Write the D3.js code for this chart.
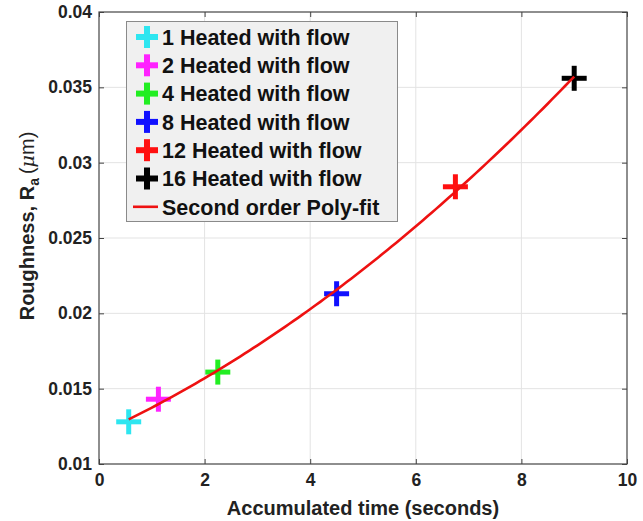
<!DOCTYPE html>
<html>
<head>
<meta charset="utf-8">
<script src="https://cdn.jsdelivr.net/npm/d3@7"></script>
<style>
  body { margin: 0; background: #fff; }
  svg { display: block; font-family: "Liberation Sans", Arial, sans-serif; }
</style>
</head>
<body>
<svg id="chart" width="643" height="521"></svg>
<script>
// data
const labels = ["1 Heated with flow", "2 Heated with flow", "4 Heated with flow",
  "8 Heated with flow", "12 Heated with flow", "16 Heated with flow"];
const times = [0.5625, 1.125, 2.25, 4.5, 6.75, 9.0];
const roughness = [0.0128, 0.0143, 0.0161, 0.0213, 0.0284, 0.0356];
const colors = ["#2ee6f0", "#ff22ff", "#22ee22", "#1010ff", "#ff1010", "#000000"];
const xTicks = [0, 2, 4, 6, 8, 10];
const yTicks = [0.01, 0.015, 0.02, 0.025, 0.03, 0.035, 0.04];
const fitLabel = "Second order Poly-fit";

const svg = d3.select("#chart");
const pLeft = 99, pRight = 627, pTop = 12, pBottom = 464;

const x = d3.scaleLinear().domain([0, 10]).range([pLeft, pRight]);
const y = d3.scaleLinear().domain([0.01, 0.04]).range([pBottom, pTop]);

// grid
const grid = svg.append("g").attr("stroke", "#e3e3e3").attr("stroke-width", 1);
grid.selectAll(".gx").data(xTicks.slice(1, -1)).join("line")
  .attr("x1", d => x(d)).attr("x2", d => x(d)).attr("y1", pTop).attr("y2", pBottom);
grid.selectAll(".gy").data(yTicks.slice(1, -1)).join("line")
  .attr("y1", d => y(d)).attr("y2", d => y(d)).attr("x1", pLeft).attr("x2", pRight);

// axes (matlab style box with inward ticks)
const axisColor = "#444";
const tickLen = 5;
svg.append("g").attr("transform", `translate(0,${pBottom})`)
  .call(d3.axisBottom(x).tickValues(xTicks).tickSize(-tickLen).tickPadding(10).tickFormat(d3.format("d")))
  .call(g => g.select(".domain").remove());
svg.append("g").attr("transform", `translate(0,${pTop})`)
  .call(d3.axisTop(x).tickValues(xTicks).tickSize(-tickLen).tickFormat(""))
  .call(g => g.select(".domain").remove());
svg.append("g").attr("transform", `translate(${pLeft},0)`)
  .call(d3.axisLeft(y).tickValues(yTicks).tickSize(-tickLen).tickPadding(7).tickFormat(d => +d.toFixed(3)))
  .call(g => g.select(".domain").remove());
svg.append("g").attr("transform", `translate(${pRight},0)`)
  .call(d3.axisRight(y).tickValues(yTicks).tickSize(-tickLen).tickFormat(""))
  .call(g => g.select(".domain").remove());

svg.selectAll(".tick line").attr("stroke", axisColor);
svg.selectAll(".tick text")
  .attr("font-family", "'Liberation Sans', Arial, sans-serif")
  .attr("font-size", 17.5).attr("font-weight", "bold").attr("fill", "#222");

svg.append("rect").attr("x", pLeft).attr("y", pTop)
  .attr("width", pRight - pLeft).attr("height", pBottom - pTop)
  .attr("fill", "none").attr("stroke", axisColor).attr("stroke-width", 1.2);

// axis labels
svg.append("text").attr("x", (pLeft + pRight) / 2).attr("y", 515)
  .attr("text-anchor", "middle").attr("font-size", 20).attr("font-weight", "bold").attr("fill", "#222")
  .text("Accumulated time (seconds)");

const yl = svg.append("text").attr("transform", "translate(34,226) rotate(-90)")
  .attr("text-anchor", "middle").attr("font-size", 20).attr("font-weight", "bold").attr("fill", "#222");
yl.append("tspan").text("Roughness, R");
yl.append("tspan").attr("font-size", 14).attr("dy", 5).text("a");
yl.append("tspan").attr("dy", -5).attr("font-weight", "normal").text("\u2009(");
yl.append("tspan").attr("font-weight", "normal").attr("font-style", "italic").attr("font-family", "'DejaVu Serif', serif").attr("font-size", 19).text("\u03bc");
yl.append("tspan").attr("font-weight", "normal").text("m)");

// markers
const plus = (g, size, w) => {
  g.append("line").attr("x1", -size / 2).attr("x2", size / 2).attr("stroke-width", w);
  g.append("line").attr("y1", -size / 2).attr("y2", size / 2).attr("stroke-width", w);
};
times.forEach((t, i) => {
  const g = svg.append("g").attr("transform", `translate(${x(t)},${y(roughness[i])})`)
    .attr("stroke", colors[i]);
  plus(g, 25, 5);
});

// second order least squares fit computed from the points
function polyfit2(xs, ys) {
  const n = xs.length;
  let s = [0, 0, 0, 0, 0], t = [0, 0, 0];
  for (let i = 0; i < n; i++) {
    for (let k = 0; k <= 4; k++) s[k] += Math.pow(xs[i], k);
    for (let k = 0; k <= 2; k++) t[k] += ys[i] * Math.pow(xs[i], k);
  }
  const A = [[s[0], s[1], s[2], t[0]], [s[1], s[2], s[3], t[1]], [s[2], s[3], s[4], t[2]]];
  for (let c = 0; c < 3; c++) {
    for (let r = c + 1; r < 3; r++) {
      const f = A[r][c] / A[c][c];
      for (let k = c; k < 4; k++) A[r][k] -= f * A[c][k];
    }
  }
  const p = [0, 0, 0];
  for (let r = 2; r >= 0; r--) {
    let v = A[r][3];
    for (let k = r + 1; k < 3; k++) v -= A[r][k] * p[k];
    p[r] = v / A[r][r];
  }
  return p;
}
const coef = polyfit2(times, roughness);
const fitX = d3.range(0, 101).map(i => times[0] + (times[times.length - 1] - times[0]) * i / 100);
const line = d3.line().x(d => x(d)).y(d => y(coef[0] + coef[1] * d + coef[2] * d * d));
svg.append("path").datum(fitX).attr("d", line)
  .attr("fill", "none").attr("stroke", "#ee1111").attr("stroke-width", 2.6);

// legend
const lg = svg.append("g");
lg.append("rect").attr("x", 126.5).attr("y", 21.5).attr("width", 271).attr("height", 200)
  .attr("fill", "#f0f0f0").attr("stroke", "#8a8a8a").attr("stroke-width", 1);
const rowY = i => 37 + i * 28.3;
labels.forEach((l, i) => {
  const g = lg.append("g").attr("transform", `translate(147,${rowY(i)})`).attr("stroke", colors[i]);
  plus(g, 22, 6);
  lg.append("text").attr("x", 162).attr("y", rowY(i)).attr("dy", "0.36em")
    .attr("font-size", 21.5).attr("font-weight", "bold").attr("fill", "#111").text(l);
});
lg.append("line").attr("x1", 133).attr("x2", 158).attr("y1", rowY(6)).attr("y2", rowY(6))
  .attr("stroke", "#ee1111").attr("stroke-width", 2.6);
lg.append("text").attr("x", 162).attr("y", rowY(6)).attr("dy", "0.36em")
  .attr("font-size", 21.5).attr("font-weight", "bold").attr("fill", "#111").text(fitLabel);
</script>
</body>
</html>
